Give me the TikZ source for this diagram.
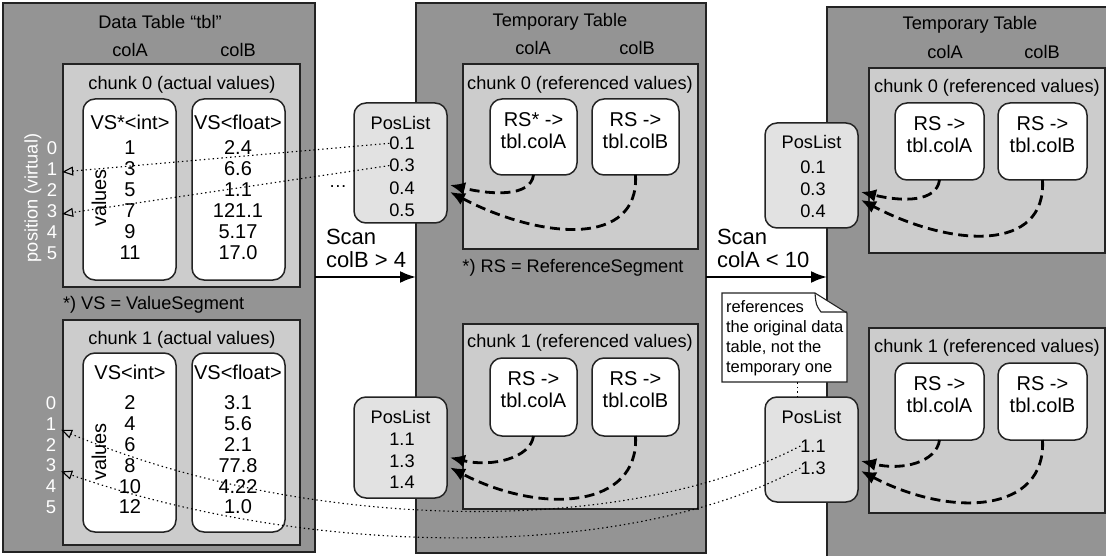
\documentclass[tikz,border=0pt]{standalone}
\usepackage{fontspec}
\setmainfont{Liberation Sans}
\usetikzlibrary{arrows.meta,calc}

\definecolor{tblgray}{RGB}{148,148,148}
\definecolor{chunkgray}{RGB}{204,204,204}
\definecolor{plgray}{RGB}{226,226,226}
\definecolor{edge}{RGB}{35,35,35}

% rectangle node given by its corners: style, name, x1, y1, x2, y2
\newcommand\placebox[6]{%
  \pgfmathsetmacro\bw{#5-#3}\pgfmathsetmacro\bh{#6-#4}%
  \node[#1, anchor=north west, minimum width=\bw pt, minimum height=\bh pt] (#2) at (#3,#4) {};}

% the two reference-segment arrows of one chunk: box A, box B, pos list, dy1, dy2
\newcommand\refpair[5]{%
  \draw[refarrow] (#1.south) .. controls ($(#1.south)+(-3,22)$) and ($(#3.east)+(45,#4+10)$) .. ($(#3.east)+(3,#4)$);
  \draw[refarrow] (#2.south) .. controls ($(#2.south)+(4,72)$) and ($(#3.east)+(95,#5+48)$) .. ($(#3.east)+(3,#5)$);}

\begin{document}
\begin{tikzpicture}[x=1pt,y=-1pt,
  every node/.style={inner sep=0pt, outer sep=0pt},
  tbl/.style={draw=edge, fill=tblgray, line width=1.5pt},
  chunk/.style={draw=edge, fill=chunkgray, line width=1.5pt},
  colbox/.style={draw=edge, fill=white, line width=1.5pt, rounded corners=12pt},
  plist/.style={draw=edge, fill=plgray, line width=1.5pt, rounded corners=12pt},
  lbl/.style={font=\fontsize{18.2}{21}\selectfont},
  val/.style={font=\fontsize{20}{22}\selectfont},
  poslbl/.style={font=\fontsize{18.5}{21}\selectfont, text=white},
  rstext/.style={font=\fontsize{20}{22}\selectfont, align=center},
  scantext/.style={font=\fontsize{22}{23}\selectfont, align=left},
  notetext/.style={font=\fontsize{16.5}{19.7}\selectfont, align=left},
  refarrow/.style={line width=2.8pt, dash pattern=on 10pt off 5.5pt, -{Latex[length=15pt,width=13pt]}},
  posarrow/.style={line width=1.1pt, dash pattern=on 1.4pt off 3pt, -{Triangle[open,length=11pt,width=9pt]}},
  scanarrow/.style={line width=2.2pt, -{Latex[length=16pt,width=12pt]}}]

\useasboundingbox (0,0) rectangle (1106,556);
\clip (0,0) rectangle (1106,556);

% ---------------- data table ----------------
\placebox{tbl}{ltab}{3}{3}{315}{552}
\node[lbl] (ltitle) at (160,22) {Data Table “tbl”};
\node[lbl] (lcolA) at (130,50) {colA};
\node[lbl] (lcolB) at (238,50) {colB};
\node[lbl, text=white, rotate=90] (lposv) at (33,198) {position (virtual)};

\placebox{chunk}{lch0}{63}{64}{300}{287}
\node[lbl] (lch0t) at (182,85) {chunk 0 (actual values)};
\placebox{colbox}{lvs0a}{83}{99}{176}{280}
\placebox{colbox}{lvs0b}{192}{99}{285}{280}
\node[val] (lvs0ah) at (130,122) {VS*<int>};
\node[val] (lvs0bh) at (238,122) {VS<float>};
\node[val, rotate=90] (lvals0) at (99,198) {values};
\foreach \v [count=\i from 0] in {1,3,5,7,9,11}
  \node[val] (a0v\i) at (130,148+21*\i) {\v};
\foreach \v [count=\i from 0] in {2.4,6.6,1.1,121.1,5.17,17.0}
  \node[val] (b0v\i) at (238,148+21*\i) {\v};
\foreach \i in {0,...,5}
  \node[poslbl] (la\i) at (52,148+21*\i) {\i};

\node[lbl, anchor=west] (vsnote) at (63,305) {*) VS = ValueSegment};

\placebox{chunk}{lch1}{63}{320}{300}{545}
\node[lbl] (lch1t) at (182,340) {chunk 1 (actual values)};
\placebox{colbox}{lvs1a}{83}{353}{176}{532}
\placebox{colbox}{lvs1b}{192}{353}{285}{532}
\node[val] (lvs1ah) at (130,372) {VS<int>};
\node[val] (lvs1bh) at (238,372) {VS<float>};
\node[val, rotate=90] (lvals1) at (99,452) {values};
\foreach \v [count=\i from 0] in {2,4,6,8,10,12}
  \node[val] (a1v\i) at (130,403+20.8*\i) {\v};
\foreach \v [count=\i from 0] in {3.1,5.6,2.1,77.8,4.22,1.0}
  \node[val] (b1v\i) at (238,403+20.8*\i) {\v};
\foreach \i in {0,...,5}
  \node[poslbl] (lb\i) at (51,403+20.8*\i) {\i};

% ---------------- first temporary table ----------------
\placebox{tbl}{mtab}{416}{3}{706}{553}
\node[lbl] (mtitle) at (560,22) {Temporary Table};
\node[lbl] (mcolA) at (533,48) {colA};
\node[lbl] (mcolB) at (637,48) {colB};

\placebox{chunk}{mch0}{463}{64}{698}{249}
\node[lbl] (mch0t) at (580,85) {chunk 0 (referenced values)};
\placebox{colbox}{mrs0a}{490}{99}{577}{175}
\placebox{colbox}{mrs0b}{592}{99}{679}{175}
\node[rstext] (mrs0at) at ($(mrs0a.north)+(0,32)$) {RS* ->\\tbl.colA};
\node[rstext] (mrs0bt) at ($(mrs0b.north)+(0,32)$) {RS ->\\tbl.colB};
\node[lbl] (rsnote) at (573,268) {*) RS = ReferenceSegment};

\placebox{chunk}{mch1}{463}{324}{698}{509}
\node[lbl] (mch1t) at (580,343) {chunk 1 (referenced values)};
\placebox{colbox}{mrs1a}{490}{358}{577}{436}
\placebox{colbox}{mrs1b}{592}{358}{679}{436}
\node[rstext] (mrs1at) at ($(mrs1a.north)+(0,32)$) {RS ->\\tbl.colA};
\node[rstext] (mrs1bt) at ($(mrs1b.north)+(0,32)$) {RS ->\\tbl.colB};

\placebox{plist}{mpl0}{354}{103}{447}{223}
\node[lbl] (mpl0t) at (400.5,123) {PosList};
\foreach \v [count=\i from 1] in {0.1,0.3,0.4,0.5}
  \node[lbl] (mpa\i) at (402,121+22.3*\i) {\v};
\node[lbl] (mdots) at (338,187) {…};

\placebox{plist}{mpl1}{354}{397}{447}{498}
\node[lbl] (mpl1t) at (400.5,417) {PosList};
\foreach \v [count=\i from 1] in {1.1,1.3,1.4}
  \node[lbl] (mpb\i) at (402,418+21.5*\i) {\v};

% ---------------- second temporary table ----------------
\placebox{tbl}{rtab}{827}{7}{1115}{565}
\node[lbl] (rtitle) at (970,25) {Temporary Table};
\node[lbl] (rcolA) at (945,52) {colA};
\node[lbl] (rcolB) at (1042,52) {colB};

\placebox{chunk}{rch0}{869}{68}{1105}{253}
\node[lbl] (rch0t) at (987,88) {chunk 0 (referenced values)};
\placebox{colbox}{rrs0a}{895}{103}{984}{180}
\placebox{colbox}{rrs0b}{998}{103}{1087}{180}
\node[rstext] (rrs0at) at ($(rrs0a.north)+(0,32)$) {RS ->\\tbl.colA};
\node[rstext] (rrs0bt) at ($(rrs0b.north)+(0,32)$) {RS ->\\tbl.colB};

\placebox{chunk}{rch1}{869}{328}{1105}{513}
\node[lbl] (rch1t) at (987,348) {chunk 1 (referenced values)};
\placebox{colbox}{rrs1a}{895}{363}{984}{440}
\placebox{colbox}{rrs1b}{998}{363}{1087}{440}
\node[rstext] (rrs1at) at ($(rrs1a.north)+(0,32)$) {RS ->\\tbl.colA};
\node[rstext] (rrs1bt) at ($(rrs1b.north)+(0,32)$) {RS ->\\tbl.colB};

\placebox{plist}{rpl0}{765}{123}{858}{228}
\node[lbl] (rpl0t) at (811.5,142) {PosList};
\foreach \v [count=\i from 1] in {0.1,0.3,0.4}
  \node[lbl] (rpa\i) at (813,145+22*\i) {\v};

\placebox{plist}{rpl1}{765}{397}{858}{502}
\node[lbl] (rpl1t) at (811.5,417) {PosList};
\foreach \v [count=\i from 1] in {1.1,1.3}
  \node[lbl] (rpb\i) at (813,424+22*\i) {\v};

% ---------------- scans ----------------
\coordinate (scanrow) at (0,277);
\draw[scanarrow] (ltab.east |- scanrow) -- (mtab.west |- scanrow);
\node[scantext, anchor=north west] (scan1) at (326,229) {Scan\\colB > 4};
\draw[scanarrow] (mtab.east |- scanrow) -- (rtab.west |- scanrow);
\node[scantext, anchor=north west] (scan2) at (717,229) {Scan\\colA < 10};

% ---------------- reference segments point to their pos lists ----------------
\refpair{mrs0a}{mrs0b}{mpl0}{22}{29}
\refpair{mrs1a}{mrs1b}{mpl1}{10}{20}
\refpair{rrs0a}{rrs0b}{rpl0}{16.5}{24.5}
\refpair{rrs1a}{rrs1b}{rpl1}{11.5}{21.5}

% ---------------- pos list entries point to rows of the data table ----------------
\draw[posarrow] (mpa1.west) -- ([xshift=5pt,yshift=-3pt]la1.east);
\draw[posarrow] (mpa2.west) -- ([xshift=5pt,yshift=-3pt]la3.east);
\draw[posarrow] (rpb1.west) .. controls (620,540) and (300,530) .. ([xshift=5pt,yshift=-6pt]lb1.east);
\draw[posarrow] (rpb2.west) .. controls (620,565) and (300,555) .. ([xshift=5pt,yshift=-6pt]lb3.east);

% ---------------- note on the second pos list ----------------
\placebox{}{note}{722}{293}{847}{382}
\draw[draw=edge, fill=white, line width=1.1pt]
  (note.north west) -- ($(note.north east)+(-32,0)$) -- ($(note.north east)+(0,20)$)
  -- (note.south east) -- (note.south west) -- cycle;
\draw[draw=edge, line width=1.1pt]
  ($(note.north east)+(-32,0)$) .. controls ($(note.north east)+(-31,12)$) .. ($(note.north east)+(-26,19)$)
  -- ($(note.north east)+(0,19)$);
\node[notetext, anchor=north west] (notet) at (726,301)
  {references\\the original data\\table, not the\\temporary one};
\draw[line width=1.1pt, dash pattern=on 1.4pt off 3pt]
  ([xshift=-14pt]rpl1.north) -- ([xshift=-14pt]rpl1.north |- note.south);

\end{tikzpicture}
\end{document}
